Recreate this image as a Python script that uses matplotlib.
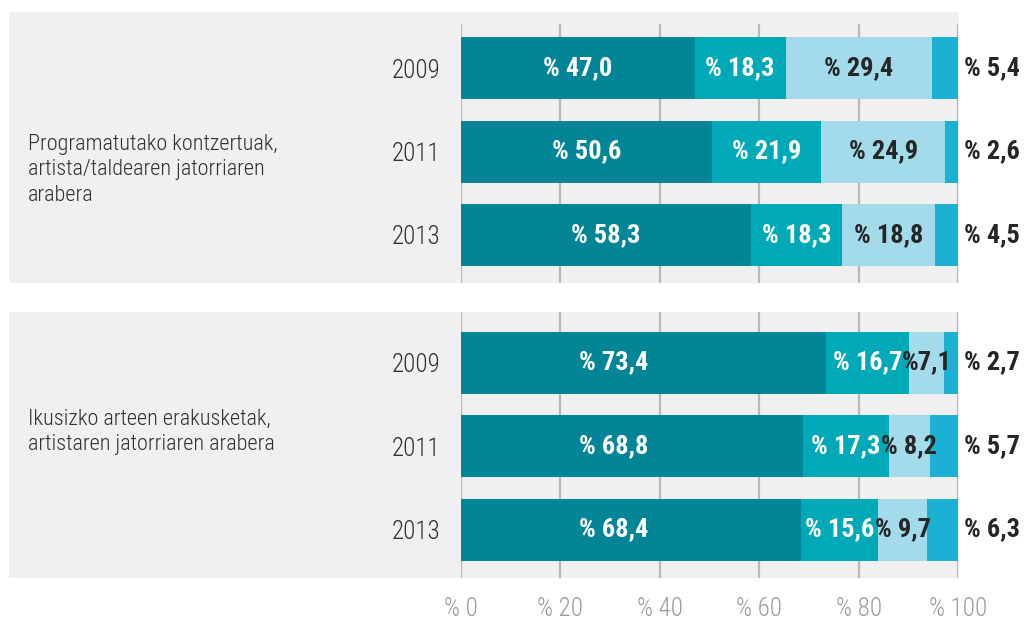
import matplotlib
matplotlib.use("Agg")
import matplotlib.pyplot as plt
from matplotlib.patches import Rectangle
from matplotlib.transforms import blended_transform_factory

plt.rcParams['font.family'] = ['Roboto Condensed', 'Liberation Sans Narrow', 'DejaVu Sans']

# Data
groups = ["Programatutako kontzertuak,\nartista/taldearen jatorriaren\narabera",
          "Ikusizko arteen erakusketak,\nartistaren jatorriaren arabera"]
years = ["2009", "2011", "2013"]
seg1 = [[47.0, 50.6, 58.3], [73.4, 68.8, 68.4]]
seg2 = [[18.3, 21.9, 18.3], [16.7, 17.3, 15.6]]
seg3 = [[29.4, 24.9, 18.8], [7.1, 8.2, 9.7]]
seg4 = [[5.4, 2.6, 4.5], [2.7, 5.7, 6.3]]
seg3_text = [["% 29,4", "% 24,9", "% 18,8"], ["%7,1", "% 8,2", "% 9,7"]]
xticks = [0, 20, 40, 60, 80, 100]
xtick_labels = ["% 0", "% 20", "% 40", "% 60", "% 80", "% 100"]

colors = ["#028597", "#00a9b7", "#a3dbea", "#1cb0d2"]

W, H = 1030, 621
fig = plt.figure(figsize=(W / 100, H / 100), dpi=100)

# layout in pixels
row = 83.5
y0_px = 68
top_px, bottom_px = 12, 590
def to_y(px):
    return (px - y0_px) / row

ax = fig.add_axes([461 / W, 1 - bottom_px / H, (958 - 461) / W, (bottom_px - top_px) / H])
ax.set_facecolor("none")
ax.set_xlim(0, 100)
ax.set_ylim(to_y(bottom_px), to_y(top_px))

panel_offset = to_y(362.5)
bar_h = 62 / row

# panel backgrounds
tr = blended_transform_factory(fig.transFigure, ax.transData)
panels = [(to_y(12), to_y(283)), (to_y(312), to_y(578))]
for (ya, yb) in panels:
    ax.add_patch(Rectangle((9 / W, ya), (959 - 9) / W, yb - ya, transform=tr,
                           facecolor="#f0f0f0", edgecolor="none", zorder=0, clip_on=False))

# gridlines
ax.vlines(xticks, to_y(24), to_y(283), color="#b8b8b8", lw=1.6, zorder=1)
ax.vlines(xticks, to_y(312), to_y(578), color="#b8b8b8", lw=1.6, zorder=1)

lbl = dict(ha="center", va="center", fontsize=19, fontweight="bold", zorder=3)
ypos_all, ylab_all = [], []
for g in range(2):
    for i, yr in enumerate(years):
        y = i + g * panel_offset
        ypos_all.append(y)
        ylab_all.append(yr)
        vals = [seg1[g][i], seg2[g][i], seg3[g][i], seg4[g][i]]
        left = 0
        for k, v in enumerate(vals):
            ax.barh(y, v, left=left, height=bar_h, color=colors[k], zorder=2)
            left += v
        # labels
        v1, v2, v3, v4 = vals
        ax.text(min(v1 / 2, 30.8), y, f"% {v1:.1f}".replace(".", ","), color="white", **lbl)
        ax.text(v1 + v2 / 2, y, f"% {v2:.1f}".replace(".", ","), color="white", **lbl)
        ax.text(v1 + v2 + v3 / 2, y, seg3_text[g][i], color="#262626", **lbl)
        ax.text(106.8, y, f"% {v4:.1f}".replace(".", ","), color="#262626", clip_on=False, **lbl)

ax.set_yticks(ypos_all)
ax.set_yticklabels(ylab_all, fontsize=18, color="#303030", fontweight="light")
ax.tick_params(axis="y", length=0, pad=15)
ax.set_xticks(xticks)
ax.set_xticklabels(xtick_labels, fontsize=18, color="#9a9a9a", fontweight="light")
ax.tick_params(axis="x", length=0, pad=5)
for s in ax.spines.values():
    s.set_visible(False)

# group labels
group_y = [to_y(170), to_y(432)]
for g, txt in enumerate(groups):
    ax.text(28 / W, group_y[g], txt, transform=tr, ha="left", va="center",
            fontsize=16, color="#303030", linespacing=1.3, fontweight="light")

fig.savefig("out.png", dpi=100)
